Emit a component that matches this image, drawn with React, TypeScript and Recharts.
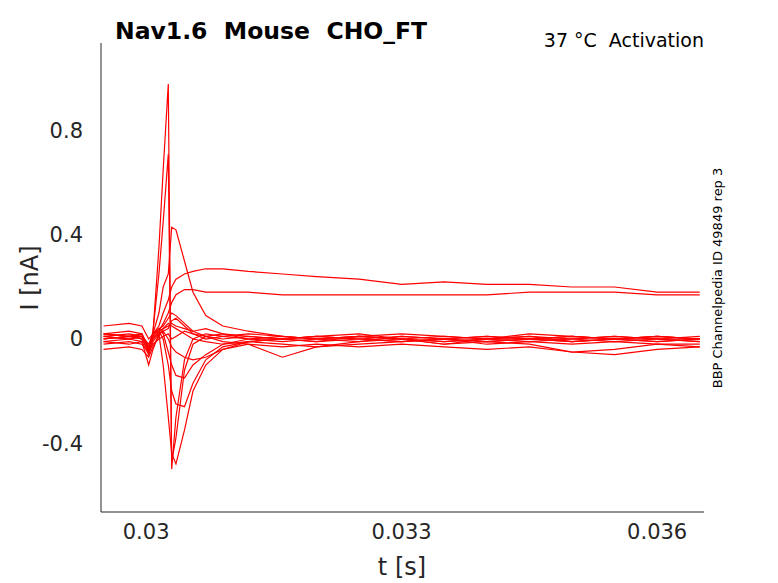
import { Line, LineChart, XAxis, YAxis } from "recharts";

// sample times (s)
const T = [
  0.0295, 0.0298, 0.02995, 0.03003, 0.03008, 0.03015, 0.0302, 0.03026, 0.0303, 0.03035,
  0.03045, 0.03055, 0.0307, 0.0309, 0.0312, 0.0316, 0.032, 0.0325, 0.033, 0.0335,
  0.034, 0.0345, 0.035, 0.0355, 0.036, 0.0365,
];

// current traces (nA), one per test potential
const traces: number[][] = [
  [0.0, 0.01, 0.0, -0.04, 0.02, 0.35, 0.65, 0.98, -0.5, -0.3, -0.08, 0.0, 0.02, 0.01, 0.0, -0.01, 0.0, 0.01, 0.0, -0.01, 0.0, 0.01, 0.0, -0.01, 0.0, 0.0],
  [0.02, 0.01, 0.02, -0.05, 0.03, 0.25, 0.45, 0.71, -0.47, -0.38, -0.12, -0.02, 0.01, 0.0, 0.01, 0.0, -0.01, 0.0, 0.01, 0.0, -0.01, 0.0, 0.01, 0.0, -0.01, 0.0],
  [0.01, 0.0, 0.01, -0.03, 0.02, 0.1, 0.2, 0.25, 0.43, 0.42, 0.3, 0.18, 0.09, 0.05, 0.03, 0.01, 0.0, 0.01, 0.0, -0.01, 0.0, 0.0, 0.01, 0.0, -0.01, 0.0],
  [0.05, 0.06, 0.05, 0.0, 0.02, 0.05, 0.1, 0.15, 0.2, 0.23, 0.25, 0.26, 0.27, 0.27, 0.26, 0.25, 0.24, 0.23, 0.21, 0.22, 0.21, 0.21, 0.2, 0.2, 0.18, 0.18],
  [0.01, 0.0, 0.01, -0.03, 0.0, 0.03, 0.06, 0.1, 0.14, 0.17, 0.19, 0.19, 0.18, 0.18, 0.18, 0.17, 0.17, 0.17, 0.17, 0.17, 0.17, 0.18, 0.18, 0.18, 0.17, 0.17],
  [-0.01, 0.0, -0.01, -0.1, -0.04, 0.02, -0.1, -0.3, -0.44, -0.48, -0.35, -0.2, -0.1, -0.04, -0.01, 0.0, 0.01, 0.0, -0.01, 0.0, 0.01, 0.0, -0.01, 0.0, 0.0, -0.01],
  [0.0, 0.01, 0.0, -0.05, 0.0, 0.03, 0.0, -0.1, -0.2, -0.25, -0.26, -0.17, -0.08, -0.03, -0.01, 0.0, -0.01, 0.01, 0.0, -0.02, 0.0, 0.01, -0.01, 0.0, 0.01, 0.0],
  [0.02, 0.01, 0.02, -0.04, 0.01, 0.04, 0.02, -0.05, -0.1, -0.14, -0.15, -0.1, -0.06, -0.02, 0.0, 0.01, 0.0, -0.01, 0.01, 0.0, -0.01, 0.0, 0.0, 0.01, 0.0, -0.01],
  [-0.01, -0.02, -0.01, -0.06, -0.01, 0.02, 0.03, 0.0, -0.03, -0.05, -0.07, -0.08, -0.07, -0.04, -0.02, -0.07, -0.03, -0.01, 0.0, -0.02, -0.01, -0.02, -0.05, -0.04, -0.02, -0.03],
  [0.0, 0.01, 0.01, -0.03, 0.02, 0.04, 0.05, 0.08, 0.1, 0.09, 0.06, 0.03, 0.01, 0.02, 0.0, 0.0, 0.01, 0.0, -0.01, 0.0, 0.01, 0.0, -0.01, 0.0, 0.01, 0.0],
  [0.01, 0.02, 0.01, -0.02, 0.02, 0.03, 0.04, 0.05, 0.06, 0.05, 0.04, 0.03, 0.04, 0.02, 0.01, 0.0, 0.01, 0.02, 0.0, 0.01, 0.0, -0.01, 0.0, 0.01, 0.0, 0.01],
  [-0.02, -0.01, -0.02, -0.05, -0.02, 0.0, 0.01, 0.02, 0.0, 0.01, 0.03, 0.02, 0.01, -0.01, -0.02, -0.03, -0.02, -0.03, -0.02, -0.03, -0.04, -0.03, -0.05, -0.06, -0.04, -0.03],
  [-0.04, -0.03, -0.04, -0.07, -0.03, 0.01, 0.04, 0.06, 0.05, 0.04, 0.02, 0.0, -0.01, -0.02, -0.01, -0.02, -0.03, -0.02, -0.01, 0.0, -0.02, -0.01, -0.02, -0.01, -0.02, -0.02],
  [0.02, 0.03, 0.02, -0.03, 0.01, 0.02, 0.03, 0.04, 0.07, 0.08, 0.05, 0.02, 0.0, 0.01, 0.02, 0.01, 0.0, 0.01, 0.02, 0.01, 0.0, 0.02, 0.01, 0.0, 0.01, 0.0],
];

const X_TICKS = [0.03, 0.033, 0.036];
const Y_TICKS = [-0.4, 0, 0.4, 0.8];

const rows = T.map((t, i) => {
  const row: Record<string, number> = { t };
  traces.forEach((tr, k) => (row[`s${k}`] = tr[i]));
  return row;
});

const AXIS = "#262626";
const FONT = "DejaVu Sans, sans-serif";

export default function App() {
  return (
    <div style={{ position: "fixed", left: 0, top: 0, width: 778, height: 583, background: "#fff", fontFamily: FONT }}>
      <LineChart width={778} height={583} data={rows} margin={{ top: 43, right: 74, left: 0, bottom: 0 }}>
        <XAxis
          dataKey="t"
          type="number"
          domain={[0.02947, 0.03655]}
          ticks={X_TICKS}
          tickFormatter={(v: number) => String(v)}
          height={71}
          stroke={AXIS}
          tick={{ fill: AXIS, fontSize: 21, fontFamily: FONT }}
          tickLine={false}
          tickSize={5}
          tickMargin={7}
          allowDataOverflow
        />
        <YAxis
          type="number"
          domain={[-0.665, 1.138]}
          ticks={Y_TICKS}
          width={101}
          stroke={AXIS}
          tick={{ fill: AXIS, fontSize: 21, fontFamily: FONT }}
          tickLine={false}
          tickSize={5}
          tickMargin={13}
          allowDataOverflow
        />
        {traces.map((_, k) => (
          <Line
            key={k}
            dataKey={`s${k}`}
            type="linear"
            stroke="#ff0000"
            strokeWidth={1.2}
            dot={false}
            isAnimationActive={false}
          />
        ))}
      </LineChart>
      <div style={{ position: "absolute", left: 115, top: 17, fontSize: 23.5, fontWeight: "bold", whiteSpace: "pre" }}>
        {"Nav1.6  Mouse  CHO_FT"}
      </div>
      <div style={{ position: "absolute", right: 74, top: 29, fontSize: 19, whiteSpace: "pre" }}>
        {"37 °C  Activation"}
      </div>
      <div style={{ position: "absolute", left: 30, top: 278, fontSize: 24, color: AXIS, transform: "translate(-50%,-50%) rotate(-90deg)", whiteSpace: "nowrap" }}>
        I [nA]
      </div>
      <div style={{ position: "absolute", left: 402, top: 567, fontSize: 24, color: AXIS, transform: "translate(-50%,-50%)" }}>
        t [s]
      </div>
      <div style={{ position: "absolute", left: 717, top: 278, fontSize: 13, transform: "translate(-50%,-50%) rotate(-90deg)", whiteSpace: "nowrap" }}>
        BBP Channelpedia ID 49849 rep 3
      </div>
    </div>
  );
}
